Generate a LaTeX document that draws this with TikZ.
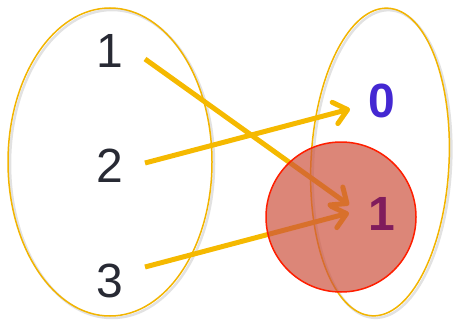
\documentclass[tikz,border=0pt]{standalone}
\usepackage{fontspec}
\setmainfont{Liberation Sans}
\usetikzlibrary{arrows.meta}
\definecolor{setline}{RGB}{242,180,0}
\definecolor{arrowcol}{RGB}{245,185,0}
\definecolor{digitcol}{RGB}{40,42,52}
\definecolor{zerocol}{RGB}{68,40,210}
\definecolor{onecol}{RGB}{128,28,92}
\definecolor{circfill}{RGB}{205,82,62}
\definecolor{circline}{RGB}{255,30,0}
\begin{document}
\begin{tikzpicture}[x=1pt,y=-1pt,
  setshape/.style={draw=setline,line width=1.5pt},
  setshadow/.style={draw=black!25,line width=2.5pt,opacity=0.45},
  mapsto/.style={draw=arrowcol,line width=5pt,-{Straight Barb[length=13pt,width=22pt,round]}},
  digit/.style={anchor=base,inner sep=0pt,font=\fontsize{48}{48}\selectfont,text=digitcol},
  imgdigit/.style={anchor=base,inner sep=0pt,font=\fontsize{48}{48}\selectfont\bfseries}]
\useasboundingbox (0,0) rectangle (454,321);
% shadows
\draw[setshadow] (112,164) ellipse [x radius=102,y radius=154];
\draw[setshadow,rotate around={-3:(382,164)}] (382,164) ellipse [x radius=69,y radius=154];
% sets
\draw[setshape] (110,162) ellipse [x radius=102,y radius=154];
\draw[setshape,rotate around={-3:(380,162)}] (380,162) ellipse [x radius=69,y radius=154];
% domain elements
\node[digit] (d1) at (110,67) {1};
\node[digit] (d2) at (110,182) {2};
\node[digit] (d3) at (110,297) {3};
% arrow ends
\coordinate (s1) at (145,59);
\coordinate (s2) at (145,163);
\coordinate (s3) at (145,267);
\coordinate (t0) at (350,109);
\coordinate (t1a) at (349,205);
\coordinate (t1b) at (349,213);
\draw[mapsto] (s1) -- (t1a);
\draw[mapsto] (s2) -- (t0);
\draw[mapsto] (s3) -- (t1b);
% highlighted circle
\node[circle,minimum size=150pt,inner sep=0pt,draw=circline,line width=1.5pt,fill=circfill,fill opacity=0.7] (hc) at (341,217) {};
% codomain elements
\node[imgdigit,text=zerocol] (c0) at (382,117) {0};
\node[imgdigit,text=onecol] (c1) at (382,230) {1};
\end{tikzpicture}
\end{document}
